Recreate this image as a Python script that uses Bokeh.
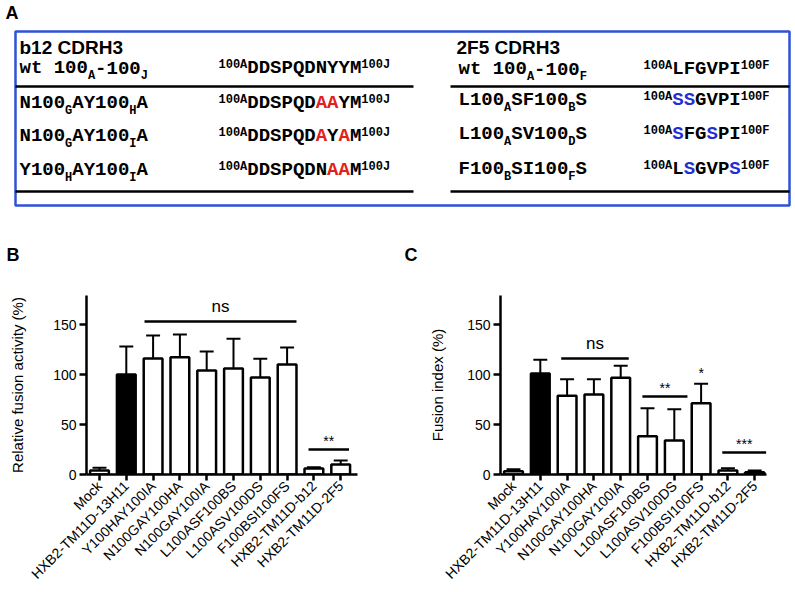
import math
from bokeh.plotting import figure
from bokeh.models import Range1d, FixedTicker, ColumnDataSource
from bokeh.layouts import column, row
from bokeh.embed import file_html
from bokeh.resources import INLINE
from bokeh.core.properties import value

# ------------------------------------------------------------------ data
categories = ["Mock", "HXB2-TM11D-13H11", "Y100HAY100IA", "N100GAY100HA",
              "N100GAY100IA", "L100ASF100BS", "L100ASV100DS",
              "F100BSI100FS", "HXB2-TM11D-b12", "HXB2-TM11D-2F5"]
bar_colors = ["white", "black", "white", "white", "white",
              "white", "white", "white", "white", "white"]
fusion_activity = [4, 100, 116, 117.3, 104, 106, 97, 110, 6, 10]
fusion_activity_err = [2.7, 28, 23, 22.7, 19, 29.7, 18.7, 17, 1.3, 4]
fusion_index = [3.3, 101, 78.7, 80, 96.7, 38.3, 34, 71.3, 4, 2.3]
fusion_index_err = [2.0, 13.7, 16.6, 15.3, 12, 28, 31.3, 19.4, 2.3, 1.7]
y_ticks = [0, 50, 100, 150]

# significance annotations (text, line start, line end, height)
sig_B_text = ["ns", "**"]
sig_B_x0 = [1.68, 7.8]
sig_B_x1 = [7.35, 9.31]
sig_B_y = [153, 25]
sig_C_text = ["ns", "**", "*", "***"]
sig_C_x0 = [1.78, 4.81, 7.0, 7.79]
sig_C_x1 = [4.3, 6.49, 7.0, 9.43]
sig_C_y = [116, 78, 93, 22]

# panel A table
b12_title = "b12 CDRH3"
f25_title = "2F5 CDRH3"
b12_names = [[("wt 100", "n"), ("A", "sub"), ("-100", "n"), ("J", "sub")],
             [("N100", "n"), ("G", "sub"), ("AY100", "n"), ("H", "sub"), ("A", "n")],
             [("N100", "n"), ("G", "sub"), ("AY100", "n"), ("I", "sub"), ("A", "n")],
             [("Y100", "n"), ("H", "sub"), ("AY100", "n"), ("I", "sub"), ("A", "n")]]
b12_seqs = [[("DDSPQDNYYM", 0)],
            [("DDSPQD", 0), ("AA", 1), ("YM", 0)],
            [("DDSPQD", 0), ("A", 1), ("Y", 0), ("A", 1), ("M", 0)],
            [("DDSPQDN", 0), ("AA", 1), ("M", 0)]]
b12_ends = ("100A", "100J")
f25_names = [[("wt 100", "n"), ("A", "sub"), ("-100", "n"), ("F", "sub")],
             [("L100", "n"), ("A", "sub"), ("SF100", "n"), ("B", "sub"), ("S", "n")],
             [("L100", "n"), ("A", "sub"), ("SV100", "n"), ("D", "sub"), ("S", "n")],
             [("F100", "n"), ("B", "sub"), ("SI100", "n"), ("F", "sub"), ("S", "n")]]
f25_seqs = [[("LFGVPI", 0)],
            [("SS", 1), ("GVPI", 0)],
            [("S", 1), ("FG", 0), ("S", 1), ("PI", 0)],
            [("L", 0), ("S", 1), ("GVP", 0), ("S", 1)]]
f25_ends = ("100A", "100F")

# ------------------------------------------------------------------ styles
SANS = "Liberation Sans"
MONO = "Liberation Mono"
BOX_BLUE = "#2d52d6"
RED = "#e3211c"
BLUE = "#1f2fd6"
BL_SHIFT = 0.37          # rendered baseline sits this many em lower than asked

PX = 26.8                 # pixels per category
X0 = -0.485               # left end of category axis
PLOT_H = 326


def bar_panel(vals, errs, ylabel, width, b_left, x_end, label_standoff,
              s_text, s_x0, s_x1, s_y):
    frame_w = int(round((x_end - X0) * PX))
    p = figure(width=width, height=PLOT_H,
               x_range=Range1d(X0, x_end), y_range=Range1d(0, 179),
               output_backend="svg", toolbar_location=None,
               min_border_left=b_left, min_border_top=31,
               min_border_bottom=PLOT_H - 31 - 179,
               min_border_right=width - b_left - frame_w)
    p.grid.visible = False
    p.outline_line_color = None

    xs = list(range(len(categories)))
    tops = [v + e for v, e in zip(vals, errs)]
    src = ColumnDataSource(dict(x=xs, top=vals, etop=tops, color=bar_colors,
                                cl=[x - 0.26 for x in xs], cr=[x + 0.26 for x in xs]))
    p.segment(x0="x", y0="top", x1="x", y1="etop", line_color="black",
              line_width=2, source=src)
    p.segment(x0="cl", y0="etop", x1="cr", y1="etop", line_color="black",
              line_width=2, source=src)
    p.vbar(x="x", top="top", bottom=0, width=0.7, fill_color="color",
           line_color="black", line_width=2.5, source=src)

    # significance
    lx0, lx1, ly = [], [], []
    for a, b, y in zip(s_x0, s_x1, s_y):
        if a != b:
            lx0.append(a); lx1.append(b); ly.append(y)
    p.segment(x0=lx0, y0=ly, x1=lx1, y1=ly, line_color="black", line_width=2.5)
    tx = [(a + b) / 2 for a, b in zip(s_x0, s_x1)]
    ns_idx = [k for k, t in enumerate(s_text) if t == "ns"]
    st_idx = [k for k, t in enumerate(s_text) if t != "ns"]
    p.text(x=[tx[k] for k in ns_idx], y=[s_y[k] + 9 + BL_SHIFT * 17 for k in ns_idx],
           text=[s_text[k] for k in ns_idx], text_align="center",
           text_baseline="alphabetic", text_font=value(SANS),
           text_font_size="17px", text_color="black")
    p.text(x=[tx[k] for k in st_idx], y=[s_y[k] + 3 + BL_SHIFT * 14 for k in st_idx],
           text=[s_text[k] for k in st_idx], text_align="center",
           text_baseline="alphabetic", text_font=value(SANS),
           text_font_size="14px", text_color="black")

    # axes
    xa = p.xaxis[0]
    xa.ticker = FixedTicker(ticks=xs)
    xa.major_label_overrides = {i: categories[i] for i in xs}
    xa.major_label_orientation = math.pi / 4
    xa.major_label_text_font = SANS
    xa.major_label_text_font_size = "14px"
    xa.major_label_text_color = "black"
    xa.major_label_standoff = 3
    xa.major_tick_in = 0
    xa.major_tick_out = 6
    xa.minor_tick_line_color = None
    xa.axis_line_width = 2.5
    xa.major_tick_line_width = 2.5
    ya = p.yaxis[0]
    ya.ticker = FixedTicker(ticks=y_ticks)
    ya.major_tick_in = 0
    ya.major_tick_out = 7
    ya.minor_tick_line_color = None
    ya.axis_line_width = 2.5
    ya.major_tick_line_width = 2.5
    ya.major_label_text_font = SANS
    ya.major_label_text_font_size = "14px"
    ya.major_label_text_color = "black"
    ya.major_label_standoff = 3
    ya.axis_label = ylabel
    ya.axis_label_text_font = SANS
    ya.axis_label_text_font_size = "15px"
    ya.axis_label_text_font_style = "normal"
    ya.axis_label_text_color = "black"
    ya.axis_label_standoff = label_standoff
    return p


# ------------------------------------------------------------------ panel A
A_W, A_H = 795, 264
pa = figure(width=A_W, height=A_H, x_range=Range1d(0, A_W), y_range=Range1d(A_H, 0),
            output_backend="svg", toolbar_location=None, min_border=0,
            x_axis_location=None, y_axis_location=None)
pa.grid.visible = False
pa.outline_line_color = None

texts = dict(x=[], y=[], text=[], font=[], size=[], color=[], style=[])


def put(x, y, t, font, size, color="black", style="bold"):
    texts["x"].append(x); texts["y"].append(y - BL_SHIFT * size)
    texts["text"].append(t)
    texts["font"].append(font); texts["size"].append(f"{size}px")
    texts["color"].append(color); texts["style"].append(style)


MONO_FS, SMALL_FS = 19, 12
CW, SCW = 0.6 * MONO_FS, 0.6 * SMALL_FS


def put_name(x, y, segs):
    for t, kind in segs:
        if kind == "n":
            put(x, y, t, MONO, MONO_FS)
            x += CW * len(t)
        else:
            put(x, y + 5, t, MONO, SMALL_FS)
            x += SCW * len(t)


def put_seq(x, y, segs, ends, hi):
    put(x, y - 6, ends[0], MONO, SMALL_FS)
    x += SCW * len(ends[0])
    for t, h in segs:
        put(x, y, t, MONO, MONO_FS, hi if h else "black")
        x += CW * len(t)
    put(x, y - 6, ends[1], MONO, SMALL_FS)


put(5, 19, "A", SANS, 18)
put(6, 261, "B", SANS, 18)
put(404, 261, "C", SANS, 18)
put(19, 54, b12_title, SANS, 19)
put(456, 54, f25_title, SANS, 19)
left_y = [75, 110, 143, 177]
right_y = [76, 107, 141, 176]
for k in range(4):
    put_name(19, left_y[k], b12_names[k])
    put_seq(218, left_y[k], b12_seqs[k], b12_ends, RED)
    put_name(458, right_y[k], f25_names[k])
    put_seq(643, right_y[k], f25_seqs[k], f25_ends, BLUE)

pa.text(x="x", y="y", text="text", text_font="font", text_font_size="size",
        text_color="color", text_font_style="style", text_align="left",
        text_baseline="alphabetic", source=ColumnDataSource(texts))

pa.quad(left=15, right=789, top=31, bottom=205, fill_color=None,
        line_color=BOX_BLUE, line_width=2.5)
pa.segment(x0=[15, 450, 15, 450], x1=[413, 789, 413, 789],
           y0=[86, 86, 191, 191], y1=[86, 86, 191, 191], line_color="black",
           line_width=2.5)

# ------------------------------------------------------------------ panels B, C
pb = bar_panel(fusion_activity, fusion_activity_err, "Relative fusion activity (%)",
               398, 86, 9.627, 24, sig_B_text, sig_B_x0, sig_B_x1, sig_B_y)
pc = bar_panel(fusion_index, fusion_index_err, "Fusion index (%)",
               397, 102, 9.44, 18, sig_C_text, sig_C_x0, sig_C_x1, sig_C_y)

layout = column(pa, row(pb, pc, spacing=0), spacing=0)
open("out.html", "w").write(file_html(layout, INLINE))
